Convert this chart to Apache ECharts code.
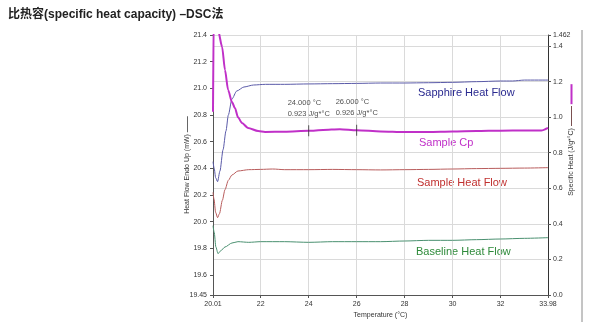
<!DOCTYPE html>
<html>
<head>
<meta charset="utf-8">
<script src="https://cdn.jsdelivr.net/npm/echarts@6/dist/echarts.min.js"></script>
<style>
  html, body { margin: 0; padding: 0; background: #fff; }
  #chart { width: 597px; height: 326px; }
</style>
</head>
<body>
<div id="chart"></div>
<script>
// Temperature ticks (°C)
const tempTicks = [20.01, 22, 24, 26, 28, 30, 32, 33.98];
// Heat flow axis ticks (mW) and their labels
const flowTicks = [19.45, 19.6, 19.8, 20.0, 20.2, 20.4, 20.6, 20.8, 21.0, 21.2, 21.4];
const flowTickLabels = ['19.45', '19.6', '19.8', '20.0', '20.2', '20.4', '20.6', '20.8', '21.0', '21.2', '21.4'];
// Specific heat axis ticks (J/g*°C) and their labels
const cpTicks = [0, 0.2, 0.4, 0.6, 0.8, 1.0, 1.2, 1.4, 1.462];
const cpTickLabels = ['0.0', '0.2', '0.4', '0.6', '0.8', '1.0', '1.2', '1.4', '1.462'];

// Sapphire heat flow, mW
const sapphireTemp = [20.01, 20.06, 20.12, 20.20, 20.30, 20.43, 20.55, 20.65, 20.80, 21.00, 21.30, 21.70, 22.2, 23, 24, 25, 26, 27, 28, 29, 30, 31, 32, 32.5, 33, 33.98];
const sapphireFlow = [20.45, 20.40, 20.33, 20.30, 20.38, 20.54, 20.68, 20.80, 20.92, 20.98, 21.01, 21.025, 21.03, 21.03, 21.033, 21.035, 21.037, 21.04, 21.04, 21.042, 21.045, 21.05, 21.055, 21.055, 21.062, 21.062];

// Sample heat flow, mW
const sampleTemp = [20.01, 20.05, 20.12, 20.20, 20.28, 20.40, 20.51, 20.65, 20.80, 21.05, 21.5, 22, 22.5, 23, 24, 25, 26, 27, 28, 29, 30, 31, 32, 33, 33.98];
const sampleFlow = [20.22, 20.17, 20.07, 20.03, 20.06, 20.16, 20.24, 20.31, 20.35, 20.38, 20.39, 20.392, 20.395, 20.39, 20.39, 20.392, 20.39, 20.388, 20.39, 20.392, 20.395, 20.398, 20.40, 20.402, 20.405];

// Baseline heat flow, mW
const baseTemp = [20.01, 20.06, 20.13, 20.22, 20.32, 20.51, 20.80, 21.05, 21.5, 22, 23, 24, 25, 26, 27, 28, 29, 30, 31, 32, 33, 33.98];
const baseFlow = [19.97, 19.92, 19.81, 19.76, 19.78, 19.81, 19.84, 19.85, 19.845, 19.85, 19.85, 19.845, 19.85, 19.85, 19.85, 19.855, 19.86, 19.86, 19.865, 19.87, 19.875, 19.88];

// Sample specific heat, J/g*°C
const cpTemp = [20.01, 20.05, 20.22, 20.39, 20.51, 20.64, 20.80, 20.93, 21.05, 21.22, 21.47, 21.89, 22.18, 23, 24, 24.6, 25.3, 26, 27, 28, 29, 30, 31, 32, 33, 33.7, 33.98];
const cpValue = [1.03, 1.70, 1.49, 1.395, 1.265, 1.153, 1.085, 1.05, 1.00, 0.967, 0.939, 0.922, 0.917, 0.918, 0.923, 0.928, 0.932, 0.926, 0.92, 0.916, 0.917, 0.92, 0.922, 0.924, 0.925, 0.925, 0.94];

// Cp readouts at selected temperatures
const readTemp = [24, 26];
const readCp = [0.923, 0.926];

const zip = (xs, ys) => xs.map((x, i) => [x, ys[i]]);

const chart = echarts.init(document.getElementById('chart'), null, { renderer: 'canvas' });

const axisFont = { fontFamily: 'Liberation Sans, Arial, sans-serif', fontSize: 7, color: '#333' };

const curve = (name, temps, vals, color, width, axis) => ({
  name, type: 'line', yAxisIndex: axis, showSymbol: false,
  smooth: 0.25, smoothMonotone: 'x',
  data: zip(temps, vals),
  lineStyle: { color, width }, itemStyle: { color }
});

chart.setOption({
  animation: false,
  textStyle: { fontFamily: 'Liberation Sans, Arial, sans-serif' },
  title: {
    text: '比热容(specific heat capacity) –DSC法',
    left: 3, top: 4,
    textStyle: { fontSize: 12, fontWeight: 'bold', color: '#222', fontFamily: 'Liberation Sans, "Noto Sans CJK SC", sans-serif' }
  },
  grid: { left: 213, right: 49, top: 35, bottom: 31, containLabel: false },
  xAxis: {
    type: 'value', min: 20.01, max: 33.98,
    name: 'Temperature (°C)', nameLocation: 'middle', nameGap: 17, nameMoveOverlap: false,
    nameTextStyle: Object.assign({}, axisFont),
    axisLine: { show: true, lineStyle: { color: '#555', width: 1 } },
    axisTick: { show: true, customValues: tempTicks, length: 3, lineStyle: { color: '#555' } },
    axisLabel: { customValues: tempTicks, margin: 6, formatter: v => String(v), ...axisFont },
    splitLine: { show: true, lineStyle: { color: '#dadada', width: 1 } }
  },
  yAxis: [
    {
      type: 'value', min: 19.45, max: 21.4, position: 'left',
      name: 'Heat Flow Endo Up (mW) {d| }', nameLocation: 'middle', nameRotate: 90, nameGap: 22,
      nameMoveOverlap: false,
      nameTextStyle: Object.assign({}, axisFont, {
        rich: { d: { width: 16, height: 1, backgroundColor: '#666', fontSize: 1 } }
      }),
      axisLine: { show: true, lineStyle: { color: '#555', width: 1 } },
      axisTick: { show: true, customValues: flowTicks, length: 3, lineStyle: { color: '#555' } },
      axisLabel: {
        customValues: flowTicks, margin: 6,
        formatter: v => flowTickLabels[flowTicks.findIndex(t => Math.abs(t - v) < 1e-6)] || '',
        ...axisFont
      },
      splitLine: { show: false }
    },
    {
      type: 'value', min: 0, max: 1.462, position: 'right',
      name: 'Specific Heat (J/g*°C) {d| } {m| }', nameLocation: 'middle', nameRotate: 90, nameGap: 20,
      nameMoveOverlap: false,
      nameTextStyle: Object.assign({}, axisFont, {
        padding: [0, 0, 0, 50],
        rich: {
          d: { width: 20, height: 1, backgroundColor: '#7a5050', fontSize: 1 },
          m: { width: 20, height: 2, backgroundColor: '#c030c8', fontSize: 1 }
        }
      }),
      axisLine: { show: true, lineStyle: { color: '#333', width: 1 } },
      axisTick: { show: true, customValues: cpTicks, length: 3, lineStyle: { color: '#555' } },
      axisLabel: {
        customValues: cpTicks, margin: 5,
        formatter: v => cpTickLabels[cpTicks.findIndex(t => Math.abs(t - v) < 1e-6)] || '',
        ...axisFont
      },
      splitLine: { show: true, lineStyle: { color: '#dadada', width: 1 } }
    }
  ],
  series: [
    curve('Baseline Heat Flow', baseTemp, baseFlow, '#4a9070', 1, 0),
    curve('Sample Heat Flow', sampleTemp, sampleFlow, '#b85c5c', 1, 0),
    curve('Sapphire Heat Flow', sapphireTemp, sapphireFlow, '#5a5aa8', 1, 0),
    curve('Sample Cp', cpTemp, cpValue, '#c030c8', 2, 1),
    {
      name: 'Cp readout', type: 'scatter', yAxisIndex: 1,
      data: zip(readTemp, readCp),
      symbol: 'rect', symbolSize: [1, 11],
      itemStyle: { color: '#333' },
      label: {
        show: true, position: 'top', distance: 6, align: 'left', offset: [-21, 0],
        fontSize: 7.5, color: '#222', lineHeight: 11,
        formatter: p => p.value[0].toFixed(3) + ' °C\n' + p.value[1].toFixed(3) + ' J/g*°C'
      },
      z: 5
    }
  ],
  graphic: [
    { type: 'text', left: 418, top: 87, style: { text: 'Sapphire Heat Flow', fill: '#2a2a90', font: '11px "Liberation Sans", Arial, sans-serif' } },
    { type: 'text', left: 419, top: 137, style: { text: 'Sample Cp', fill: '#c030c8', font: '11px "Liberation Sans", Arial, sans-serif' } },
    { type: 'text', left: 417, top: 177, style: { text: 'Sample Heat Flow', fill: '#c0302f', font: '11px "Liberation Sans", Arial, sans-serif' } },
    { type: 'text', left: 416, top: 246, style: { text: 'Baseline Heat Flow', fill: '#2e8a3a', font: '11px "Liberation Sans", Arial, sans-serif' } },
    { type: 'line', shape: { x1: 582, y1: 30, x2: 582, y2: 322 }, style: { stroke: '#8a8a8a', lineWidth: 1 } }
  ]
});
</script>
</body>
</html>
